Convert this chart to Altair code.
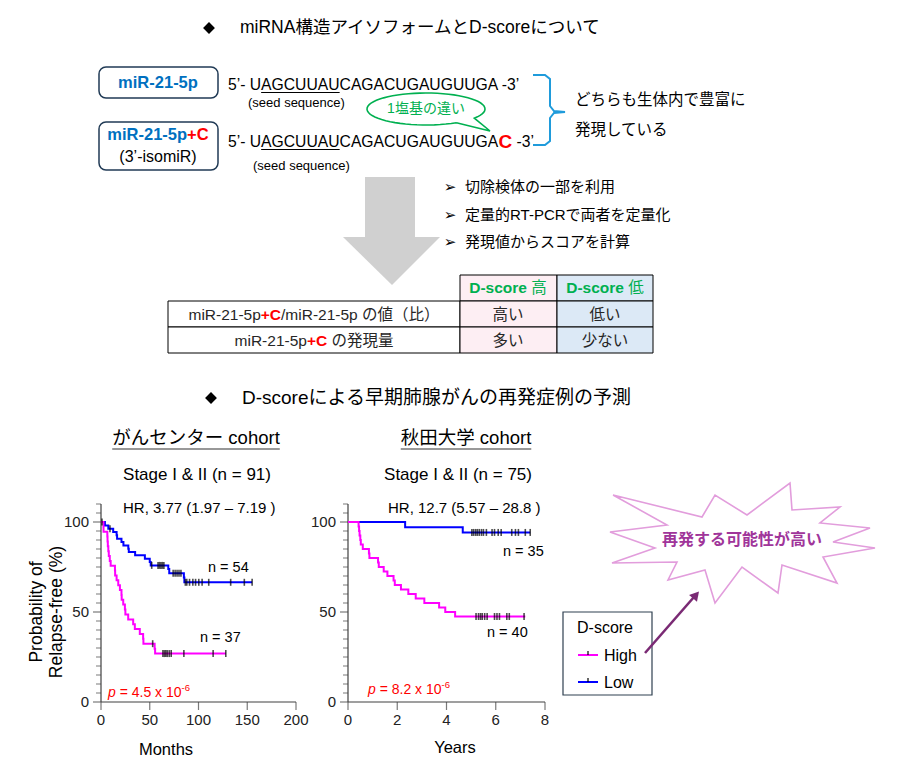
import altair as alt
import pandas as pd
import numpy as np

# ---------------- data ----------------
# がんセンター cohort (months)
gc_high_t = [0, 2.5, 2.6, 6.5, 6.7, 7.0, 7.5, 8.0, 9.0, 9.9, 14.3, 14.5, 16.0, 17.7, 19.4, 21.0, 21.2, 22.8, 24.5, 25.0,
             27.9, 33.0, 34.7, 39.8, 43.2, 43.5, 55.0, 55.5, 128]
gc_high_s = [100, 97.3, 94.6, 91.9, 89.2, 86.5, 83.8, 81.1, 78.4, 75.7, 73.0, 70.3, 67.6, 64.9, 62.2, 59.5, 56.8, 54.1, 51.4, 48.6,
             45.9, 43.2, 40.5, 37.8, 35.1, 32.4, 29.6, 26.9, 26.9]
gc_high_cens = [53, 63.5, 65, 66.5, 68, 70, 72, 85, 115, 128]
gc_low_t = [0, 4, 7.5, 12.5, 16, 16.5, 21, 23, 28, 28.5, 35, 45, 50, 51, 69, 70, 85, 85.5, 155]
gc_low_s = [100, 98.1, 96.3, 94.4, 92.6, 90.7, 88.9, 87.0, 85.2, 83.3, 81.5, 79.6, 77.8, 75.9, 73.9, 71.5, 69.1, 66.5, 66.5]
gc_low_cens = [1, 9.2, 52, 58.5, 60, 61.5, 63, 64.5, 74, 76, 78, 80, 82, 86.5, 88, 90.8, 94.2, 97, 100.3, 103.7,
               110.5, 133, 147, 155]
# 秋田大学 cohort (years)
ak_high_t = [0, 0.43, 0.45, 0.47, 0.50, 0.52, 0.60, 0.85, 0.87, 1.22, 1.25, 1.45, 1.60, 1.85, 1.90, 2.15, 2.45, 2.75,
             3.10, 3.70, 3.95, 4.35, 7.2]
ak_high_s = [100, 97.5, 95, 92.5, 90, 87.5, 85, 82.5, 80, 77.5, 75, 72.5, 70, 67.5, 65, 62.5, 60, 57.5, 55, 52.5, 50,
             47.5, 47.5]
ak_high_cens = [5.2, 5.3, 5.38, 5.45, 5.55, 5.65, 5.95, 6.05, 6.15, 6.45, 6.55, 7.15]
ak_low_t = [0, 2.32, 4.66, 7.4]
ak_low_s = [100, 97.1, 94.2, 94.2]
ak_low_cens = [5.03, 5.1, 5.18, 5.25, 5.33, 5.42, 5.5, 5.62, 5.85, 5.95, 6.1, 6.22, 6.65, 6.8, 6.92, 7.2, 7.4]

gc_xticks = [0, 50, 100, 150, 200]
ak_xticks = [0, 2, 4, 6, 8]
y_major = [0, 50, 100]
y_minor = [5, 10, 15, 20, 25, 30, 35, 40, 45, 55, 60, 65, 70, 75, 80, 85, 90, 95, 105, 110]

# ---------------- helpers ----------------
OFF = 8
ONE = pd.DataFrame({"k": [0]})
JP = "Liberation Sans, Noto Sans CJK JP"
AX = "#404040"
layers = []

AR = {' ': 278, '!': 278, '(': 333, ')': 333, '+': 584, ',': 278, '-': 333, '.': 278, '/': 278, '=': 584, '&': 667,
      '%': 889, "'": 191, '\u2019': 222, '\u2013': 556, ':': 278}
for c, w in zip("ABCDEFGHIJKLMNOPQRSTUVWXYZ",
                [667, 667, 722, 722, 667, 611, 778, 722, 278, 500, 667, 556, 833, 722, 778, 667, 778, 722, 667, 611, 722, 667, 944, 667, 667, 611]):
    AR[c] = w
for c, w in zip("abcdefghijklmnopqrstuvwxyz",
                [556, 556, 500, 556, 556, 278, 556, 556, 222, 222, 500, 222, 833, 556, 556, 556, 556, 333, 500, 278, 556, 500, 722, 500, 500, 500]):
    AR[c] = w
ARB = dict(AR)
ARB.update({'C': 722, 'D': 722, 'R': 722, 'a': 556, 'b': 611, 'c': 556, 'd': 611, 'e': 556, 'g': 611, 'h': 611,
            'i': 278, 'l': 278, 'm': 889, 'n': 611, 'o': 611, 'p': 611, 'r': 389, 's': 556, 't': 333, 'u': 611})


def tw(s, size, bold=False):
    t = ARB if bold else AR
    tot = 0
    for c in s:
        if c in t:
            tot += t[c]
        elif c.isdigit():
            tot += 556
        elif ord(c) > 0x2000:
            tot += 1000
        else:
            tot += 556
    return tot * size / 1000.0


def T(x, y, s, size=14, color="#000000", bold=False, align="left", font=JP, angle=None, italic=False,
      baseline="middle"):
    kw = dict(align=align, baseline=baseline, fontSize=size, color=color, font=font)
    if bold:
        kw["fontWeight"] = "bold"
    if italic:
        kw["fontStyle"] = "italic"
    if angle is not None:
        kw["angle"] = angle
    layers.append(alt.Chart(ONE).mark_text(**kw).encode(
        x=alt.value(x - OFF), y=alt.value(y - OFF), text=alt.value(s)))


def P(s, size, color="#000000", bold=False, italic=False, dy=0):
    return (s, size, color, bold, italic, dy)


def S(x, y, parts, center=False):
    ws = [tw(p[0], p[1], p[3]) for p in parts]
    cx = x - sum(ws) / 2.0 if center else x
    for p, w in zip(parts, ws):
        s = p[0]
        lead = len(s) - len(s.lstrip(" "))
        body = s.strip(" ")
        if body:
            T(cx + tw(" " * lead, p[1], p[3]), y + p[5], body, p[1], p[2], p[3], italic=p[4])
        cx += w


def R(x1, y1, x2, y2, fill="white", stroke="black", sw=1.0, r=0):
    kw = dict(fill=fill, stroke=stroke, strokeWidth=sw)
    if r:
        kw["cornerRadius"] = r
    layers.append(alt.Chart(ONE).mark_rect(**kw).encode(
        x=alt.value(x1 - OFF), x2=alt.value(x2 - OFF), y=alt.value(y1 - OFF), y2=alt.value(y2 - OFF)))


def RULE(x1, y1, x2, y2, color="black", sw=1.0):
    layers.append(alt.Chart(ONE).mark_rule(color=color, strokeWidth=sw).encode(
        x=alt.value(x1 - OFF), x2=alt.value(x2 - OFF), y=alt.value(y1 - OFF), y2=alt.value(y2 - OFF)))


def POLY(pts, color, sw=1.5):
    df = pd.DataFrame({"px": [p[0] - OFF for p in pts], "py": [p[1] - OFF for p in pts], "i": list(range(len(pts)))})
    layers.append(alt.Chart(df).mark_line(color=color, strokeWidth=sw, strokeJoin="miter").encode(
        x=alt.X("px:Q", scale=None, axis=None), y=alt.Y("py:Q", scale=None, axis=None), order="i:Q"))


# ---------------- top part ----------------
layers.append(alt.Chart(ONE).mark_point(shape="diamond", filled=True, size=140, color="black", opacity=1).encode(
    x=alt.value(209 - OFF), y=alt.value(28 - OFF)))
T(240, 28, "miRNA構造アイソフォームとD-scoreについて", 17.5)

BLUE = "#0070C0"
RED = "#FF0000"
GREEN = "#00B050"
NAVY = "#203A55"

R(99, 67, 218, 98, "white", NAVY, 1.5, 7)
T(158, 83, "miR-21-5p", 16.5, BLUE, True, align="center")
R(99, 122, 218, 170, "white", NAVY, 1.5, 7)
S(158, 135, [P("miR-21-5p", 16.5, BLUE, True), P("+C", 16.5, RED, True)], center=True)
T(158, 157, "(3\u2019-isomiR)", 16, align="center")

SEQ = 15.7
T(228, 85, "5\u2019- UAGCUUAUCAGACUGAUGUUGA -3\u2019", SEQ)
u0 = 228 + tw("5\u2019- U", SEQ)
u1 = u0 + tw("AGCUUAU", SEQ)
RULE(u0, 92.5, u1, 92.5, "black", 1.2)
T(248, 103, "(seed sequence)", 13)

S(228, 142, [P("5\u2019- UAGCUUAUCAGACUGAUGUUGA", SEQ), P("C", 19, RED, True), P(" -3\u2019", SEQ)])
RULE(u0, 149.5, u1, 149.5, "black", 1.2)
T(253, 166, "(seed sequence)", 13)

# speech bubble
cx, cy, rx, ry = 426, 109, 59, 16
ang = np.deg2rad(np.linspace(59, 395, 60))
bub = [(cx + rx * np.cos(a), cy + ry * np.sin(a)) for a in ang] + [(490, 131), (cx + rx * np.cos(ang[0]), cy + ry * np.sin(ang[0]))]
POLY(bub, GREEN, 1.6)
T(426, 109, "1塩基の違い", 14, GREEN, align="center")

# brace
BR = "#1F9BDB"
POLY([(533, 75), (545, 75), (550, 79), (550, 106), (554, 111), (565, 112), (554, 113), (550, 118), (550, 141),
      (545, 145), (533, 145)], BR, 2)
T(575, 100, "どちらも生体内で豊富に", 15.5)
T(575, 130, "発現している", 15.5)

# big grey arrow
GREY = "#D0D0D0"
R(365, 177, 415, 238, GREY, GREY, 0)
tri = pd.DataFrame({"x": [343 - OFF, 392 - OFF, 440 - OFF], "y": [237 - OFF] * 3, "y2": [237 - OFF, 285 - OFF, 237 - OFF]})
layers.append(alt.Chart(tri).mark_area(color=GREY, opacity=1).encode(
    x=alt.X("x:Q", scale=None, axis=None), y=alt.Y("y:Q", scale=None, axis=None), y2="y2:Q"))

for yy, s in [(187, "切除検体の一部を利用"), (215, "定量的RT-PCRで両者を定量化"), (242, "発現値からスコアを計算")]:
    T(450, yy, "\u27a2", 15, font="DejaVu Sans", align="center")
    T(465, yy, s, 15)

# table
PINK = "#FDEEF3"
LBLUE = "#DCE9F6"
R(460, 275, 557, 301, PINK, "black", 1)
R(557, 275, 653, 301, LBLUE, "black", 1)
for y1, y2 in [(301, 327), (327, 353)]:
    R(168, y1, 460, y2, "white", "black", 1)
    R(460, y1, 557, y2, PINK, "black", 1)
    R(557, y1, 653, y2, LBLUE, "black", 1)
S(508, 288, [P("D-score", 15.5, GREEN, True), P(" 高", 15.5, GREEN)], center=True)
S(605, 288, [P("D-score", 15.5, GREEN, True), P(" 低", 15.5, GREEN)], center=True)
TC = "#262626"
S(314, 315, [P("miR-21-5p", 15.5, TC), P("+C", 15.5, RED, True), P("/miR-21-5p の値（比）", 15.5, TC)], center=True)
S(314, 341, [P("miR-21-5p", 15.5, TC), P("+C", 15.5, RED, True), P(" の発現量", 15.5, TC)], center=True)
T(508, 315, "高い", 15.5, TC, align="center")
T(605, 315, "低い", 15.5, TC, align="center")
T(508, 341, "多い", 15.5, TC, align="center")
T(605, 341, "少ない", 15.5, TC, align="center")

# second heading
layers.append(alt.Chart(ONE).mark_point(shape="diamond", filled=True, size=140, color="black", opacity=1).encode(
    x=alt.value(211 - OFF), y=alt.value(398 - OFF)))
T(242, 398, "D-scoreによる早期肺腺がんの再発症例の予測", 19)

# cohort titles
t1 = "がんセンター cohort"
T(196, 438, t1, 18.5, align="center")
w1 = tw(t1, 18.5)
RULE(196 - w1 / 2, 449, 196 + w1 / 2, 449, "#333333", 1.2)
t2 = "秋田大学 cohort"
T(466, 438, t2, 18.5, align="center")
w2 = tw(t2, 18.5)
RULE(466 - w2 / 2, 449, 466 + w2 / 2, 449, "#333333", 1.2)
T(197, 475, "Stage I & II (n = 91)", 17, align="center")
T(458, 475, "Stage I & II (n = 75)", 17, align="center")
T(123, 508, "HR, 3.77 (1.97 \u2013 7.19 )", 15)
T(388, 508, "HR, 12.7 (5.57 \u2013 28.8 )", 15)

# axis titles
T(37, 612, "Probability of", 17.5, align="center", angle=270)
T(57, 612, "Relapse-free (%)", 17.5, align="center", angle=270)
T(166, 750, "Months", 16.5, align="center")
T(455, 748, "Years", 16.5, align="center")

# in-plot annotations
T(208, 568, "n = 54", 14.5)
T(200, 638, "n = 37", 14.5)
T(503, 552, "n = 35", 14.5)
T(487, 633, "n = 40", 14.5)
S(108, 693, [P("p", 14, RED, italic=True), P(" = 4.5 x 10", 14, RED), P("-6", 9.5, RED, dy=-5)])
S(368, 690, [P("p", 14, RED, italic=True), P(" = 8.2 x 10", 14, RED), P("-6", 9.5, RED, dy=-5)])

# legend
R(563, 612, 652, 695, "white", "#2F4050", 1.2)
T(577, 628, "D-score", 16)
RULE(578, 655, 598, 655, "#FF00FF", 2)
RULE(588, 651, 588, 655, "black", 1.2)
T(604, 656, "High", 16)
RULE(578, 682, 598, 682, "#0000FF", 2)
RULE(588, 678, 588, 682, "black", 1.2)
T(604, 683, "Low", 16)

# arrow to burst
PUR = "#7A2A74"
RULE(645, 653, 694, 597, PUR, 2.5)
layers.append(alt.Chart(ONE).mark_point(shape="triangle-up", filled=True, size=110, color=PUR, opacity=1, angle=41).encode(
    x=alt.value(696 - OFF), y=alt.value(595 - OFF)))

# starburst
star = [(613, 495), (667, 525), (610, 532), (655, 548), (612, 563), (677, 562), (668, 580), (705, 570), (715, 603),
        (742, 567), (778, 593), (782, 565), (837, 583), (823, 557), (875, 548), (833, 542), (870, 528), (820, 523),
        (840, 507), (792, 510), (790, 483), (747, 515), (715, 495), (702, 517), (613, 495)]
POLY(star, "#E29DDC", 1.6)
T(742, 540, "再発する可能性が高い", 16, "#A0359A", True, align="center")


# ---------------- KM panels ----------------
def step_at(ts, ss, t):
    v = ss[0]
    for a, b in zip(ts, ss):
        if a <= t:
            v = b
    return v


def km_panel(curves, xdom, xr, xticks):
    xs = alt.Scale(domain=xdom, range=[xr[0] - OFF, xr[1] - OFF], nice=False, zero=False)
    ys = alt.Scale(domain=[0, 100], range=[702 - OFF, 522 - OFF], nice=False, zero=False)

    def X(f):
        return alt.X(f, type="quantitative", scale=xs, axis=None)

    def Y(f):
        return alt.Y(f, type="quantitative", scale=ys, axis=None)

    L = []
    L.append(alt.Chart(pd.DataFrame({"x": [0], "y": [0], "y2": [110]})).mark_rule(color=AX, strokeWidth=1.2).encode(
        x=X("x"), y=Y("y"), y2="y2"))
    L.append(alt.Chart(pd.DataFrame({"x": [xdom[0]], "x2": [xdom[1]], "y": [0]})).mark_rule(color=AX, strokeWidth=1.2).encode(
        x=X("x"), x2="x2", y=Y("y")))
    L.append(alt.Chart(pd.DataFrame({"x": [0] * len(y_minor), "y": y_minor})).mark_tick(
        orient="horizontal", size=5, thickness=1, xOffset=-2.5, color=AX).encode(x=X("x"), y=Y("y")))
    L.append(alt.Chart(pd.DataFrame({"x": [0] * len(y_major), "y": y_major})).mark_tick(
        orient="horizontal", size=8, thickness=1.2, xOffset=-4, color=AX).encode(x=X("x"), y=Y("y")))
    L.append(alt.Chart(pd.DataFrame({"x": xticks, "y": [0] * len(xticks)})).mark_tick(
        orient="vertical", size=8, thickness=1.2, yOffset=4, color=AX).encode(x=X("x"), y=Y("y")))
    L.append(alt.Chart(pd.DataFrame({"x": [0] * len(y_major), "y": y_major, "lab": [str(v) for v in y_major]})).mark_text(
        align="right", baseline="middle", dx=-12, fontSize=15, font="Liberation Sans", color="#222222").encode(
        x=X("x"), y=Y("y"), text="lab:N"))
    L.append(alt.Chart(pd.DataFrame({"x": xticks, "y": [0] * len(xticks), "lab": [str(v) for v in xticks]})).mark_text(
        align="center", baseline="top", dy=11, fontSize=15, font="Liberation Sans", color="#222222").encode(
        x=X("x"), y=Y("y"), text="lab:N"))
    for ts, ss, cens, col in curves:
        L.append(alt.Chart(pd.DataFrame({"t": ts, "s": ss})).mark_line(
            interpolate="step-after", color=col, strokeWidth=2).encode(x=X("t"), y=Y("s")))
    for ts, ss, cens, col in curves:
        cy_ = [step_at(ts, ss, c) for c in cens]
        L.append(alt.Chart(pd.DataFrame({"t": cens, "s": cy_})).mark_tick(
            orient="vertical", size=7, thickness=1.6, color="black").encode(x=X("t"), y=Y("s")))
    return alt.layer(*L)


km1 = km_panel([(gc_low_t, gc_low_s, gc_low_cens, "#0000FF"), (gc_high_t, gc_high_s, gc_high_cens, "#FF00FF")],
               [0, 200], [101, 296], gc_xticks)
km2 = km_panel([(ak_low_t, ak_low_s, ak_low_cens, "#0000FF"), (ak_high_t, ak_high_s, ak_high_cens, "#FF00FF")],
               [0, 8], [348, 545], ak_xticks)

chart = alt.layer(*layers, km1, km2).resolve_scale(x="independent", y="independent").properties(
    width=895, height=759, padding=0, autosize="none", background="white"
).configure_view(stroke=None)

chart.save("out.html", embed_options={"renderer": "svg", "actions": False})
